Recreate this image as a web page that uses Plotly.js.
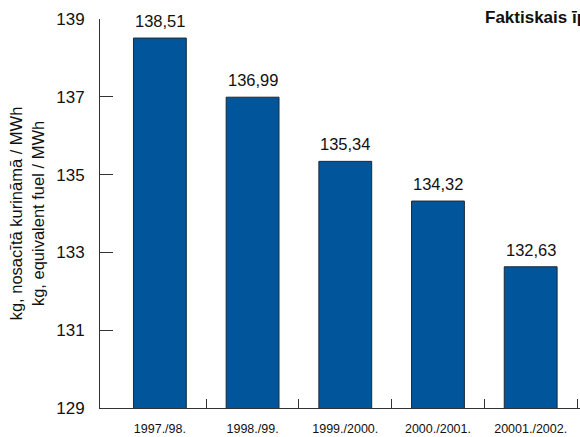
<!DOCTYPE html>
<html>
<head>
<meta charset="utf-8">
<script src="https://cdn.plot.ly/plotly-3.0.1.min.js"></script>
<style>
  html, body { margin: 0; padding: 0; background: #fff; }
  #chart { width: 580px; height: 437px; }
</style>
</head>
<body>
<div id="chart"></div>
<script>
// Specific fuel consumption per heating season
const seasons = ['1997./98.', '1998./99.', '1999./2000.', '2000./2001.', '20001./2002.'];
const consumption = [138.51, 136.99, 135.34, 134.32, 132.63];
const yTicks = [129, 131, 133, 135, 137, 139];
const boundaryTicks = [0.5, 1.5, 2.5, 3.5, 4.5];

const barColor = '#00559b';
const axisColor = '#333333';
const font = 'Liberation Sans, Arial, sans-serif';

const xRange = [-0.646, 4.532];

function fmt(v) {
  return v.toFixed(2).replace('.', ',');
}

const trace = {
  type: 'bar',
  x: seasons.map((s, i) => i),
  y: consumption,
  width: 0.57,
  marker: { color: barColor, line: { color: '#1a2a3a', width: 1 } },
  hoverinfo: 'skip'
};

const valueLabels = consumption.map((v, i) => ({
  x: i, y: v, xref: 'x', yref: 'y',
  text: fmt(v),
  showarrow: false,
  yanchor: 'bottom',
  yshift: 6,
  font: { family: font, size: 16.5, color: '#111' }
}));

const layout = {
  width: 580,
  height: 437,
  margin: { l: 100, r: 0, t: 19, b: 29, pad: 0 },
  paper_bgcolor: '#fff',
  plot_bgcolor: '#fff',
  showlegend: false,
  xaxis: {
    range: xRange,
    tickvals: seasons.map((s, i) => i),
    ticktext: seasons,
    ticks: '',
    showgrid: false,
    zeroline: false,
    showline: true,
    linecolor: axisColor,
    linewidth: 1,
    ticklabelstandoff: 9,
    tickfont: { family: font, size: 12.5, color: '#111' },
    fixedrange: true
  },
  xaxis2: {
    overlaying: 'x',
    range: xRange,
    tickvals: boundaryTicks,
    showticklabels: false,
    ticks: 'inside',
    ticklen: 9,
    tickwidth: 1,
    tickcolor: axisColor,
    showgrid: false,
    zeroline: false,
    showline: false,
    fixedrange: true
  },
  yaxis: {
    range: [129, 139],
    tickvals: yTicks,
    ticks: 'inside',
    ticklen: 13,
    tickwidth: 1,
    tickcolor: axisColor,
    showgrid: false,
    zeroline: false,
    showline: true,
    linecolor: axisColor,
    linewidth: 1,
    ticklabelstandoff: 11,
    tickfont: { family: font, size: 17, color: '#111' },
    title: {
      text: 'kg, nosacītā kurināmā / MWh<br>kg, equivalent fuel / MWh',
      font: { family: font, size: 16.5, color: '#111' },
      standoff: 7
    },
    fixedrange: true
  },
  annotations: valueLabels.concat([{
    xref: 'paper', yref: 'paper',
    x: (483 - 100) / 480, y: 1,
    xanchor: 'left', yanchor: 'middle',
    yshift: 2,
    text: '<b>Faktiskais īpatnējais kurināmā patēriņš</b>',
    showarrow: false,
    font: { family: font, size: 17, color: '#111' }
  }])
};

const ghost = {
  type: 'scatter', x: boundaryTicks, y: [129, 129, 129, 129, 129],
  xaxis: 'x2', mode: 'markers', marker: { opacity: 0 }, hoverinfo: 'skip'
};

Plotly.newPlot('chart', [trace, ghost], layout, { staticPlot: true, displayModeBar: false });
</script>
</body>
</html>
